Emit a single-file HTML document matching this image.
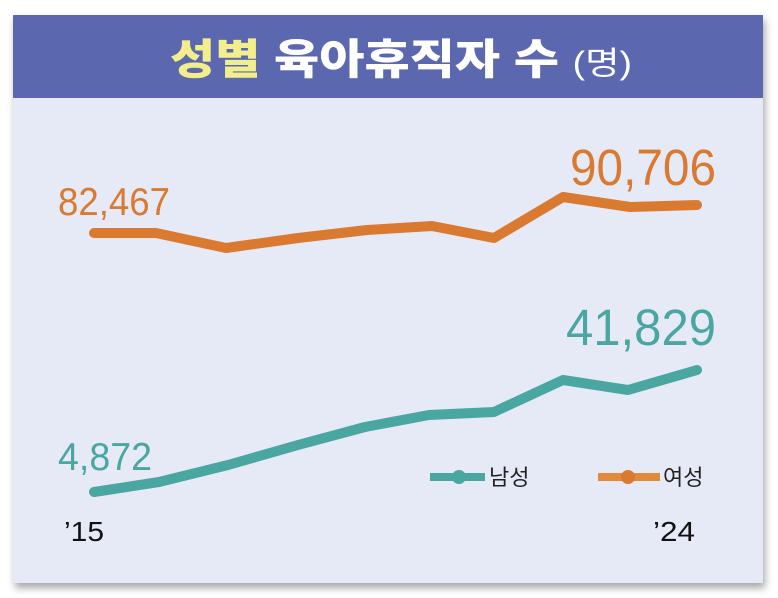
<!DOCTYPE html>
<html><head><meta charset="utf-8"><style>
body{margin:0;background:#fff;width:778px;height:598px;overflow:hidden;}
</style></head><body>
<svg width="778" height="598" xmlns="http://www.w3.org/2000/svg" style="position:absolute;left:0;top:0">
<defs><filter id="sh" x="-5%" y="-5%" width="110%" height="115%"><feDropShadow dx="2" dy="5" stdDeviation="4" flood-color="#000" flood-opacity="0.35"/></filter></defs>
<rect x="13" y="15" width="750" height="568" fill="#e6e9f6" filter="url(#sh)"/>
<rect x="13" y="15" width="750" height="83" fill="#5b68b0"/>
<text x="170" y="74" font-family="'Liberation Sans','Noto Sans CJK KR',sans-serif" font-weight="900" font-size="42" fill="#fff" textLength="462" lengthAdjust="spacingAndGlyphs"><tspan fill="#f3ee8c">성별</tspan> 육아휴직자 수 <tspan font-size="32" font-weight="normal">(명)</tspan></text>
<polyline points="94,233 156,233 226,248 298,238 367,230 432,226 494,238 563,197 630,207 697,205" fill="none" stroke="#d97a30" stroke-width="10" stroke-linejoin="round" stroke-linecap="round"/>
<polyline points="94,492 159,482 228,465 298,445 365,427 429,415 494,412 563,380 628,390 697,370" fill="none" stroke="#4aa6a0" stroke-width="10" stroke-linejoin="round" stroke-linecap="round"/>
<g font-family="'Liberation Sans',sans-serif">
<text x="58" y="215" font-size="39" fill="#d97a30" textLength="112" lengthAdjust="spacingAndGlyphs">82,467</text>
<text x="570" y="185" font-size="51" fill="#d97a30" textLength="146" lengthAdjust="spacingAndGlyphs">90,706</text>
<text x="566" y="345" font-size="51" fill="#4aa6a0" textLength="150" lengthAdjust="spacingAndGlyphs">41,829</text>
<text x="58" y="470" font-size="39" fill="#4aa6a0" textLength="94" lengthAdjust="spacingAndGlyphs">4,872</text>
<text x="64" y="541" font-size="28" fill="#111" textLength="40" lengthAdjust="spacingAndGlyphs">’15</text>
<text x="653" y="541" font-size="28" fill="#111" textLength="42" lengthAdjust="spacingAndGlyphs">’24</text>
</g>
<line x1="430" y1="477" x2="485" y2="477" stroke="#4aa6a0" stroke-width="8"/><circle cx="459" cy="477" r="7" fill="#4aa6a0"/>
<line x1="598" y1="477" x2="660" y2="477" stroke="#e08a3a" stroke-width="8"/><circle cx="628" cy="477" r="7" fill="#d97a30"/>
<g font-family="'Liberation Sans','Noto Sans CJK KR',sans-serif" font-size="22" fill="#222">
<text x="489" y="485">남성</text><text x="663" y="485">여성</text></g>
</svg>
</body></html>
